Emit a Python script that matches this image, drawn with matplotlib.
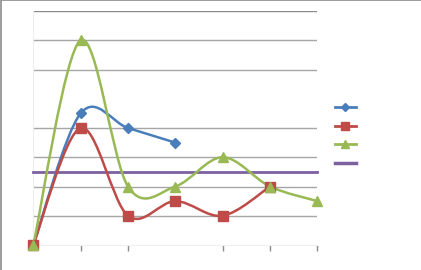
import matplotlib
matplotlib.use("Agg")
import matplotlib.pyplot as plt
from matplotlib.path import Path
from matplotlib.patches import PathPatch, Rectangle
from matplotlib.lines import Line2D

# donnees
x_bleu = [0, 1, 2, 3]
y_bleu = [0, 4.5, 4, 3.5]
x_rouge = [0, 1, 2, 3, 4, 5]
y_rouge = [0, 4, 1, 1.5, 1, 2]
x_vert = [0, 1, 2, 3, 4, 5, 6]
y_vert = [0, 7, 2, 2, 3, 2, 1.5]
x_violet = [0, 6]
y_violet = [2.5, 2.5]
grilles = [1, 2, 3, 4, 6, 7, 8]
graduations = [1, 2, 4, 5, 6]

bleu = '#4a7ebb'
rouge = '#be4b48'
vert = '#98b954'
violet = '#7d60a0'


def courbe_lisse(xs, ys):
    # spline de Bezier facon Excel (lignes lissees)
    pts = list(zip(xs, ys))
    n = len(pts)
    verts = [pts[0]]
    codes = [Path.MOVETO]
    for i in range(n - 1):
        p0 = pts[max(i - 1, 0)]
        p1 = pts[i]
        p2 = pts[i + 1]
        p3 = pts[min(i + 2, n - 1)]
        c1 = (p1[0] + (p2[0] - p0[0]) / 6, p1[1] + (p2[1] - p0[1]) / 6)
        c2 = (p2[0] - (p3[0] - p1[0]) / 6, p2[1] - (p3[1] - p1[1]) / 6)
        verts += [c1, c2, p2]
        codes += [Path.CURVE4] * 3
    return Path(verts, codes)


fig = plt.figure(figsize=(4.21, 2.70), dpi=100)
ax = fig.add_axes([33.3 / 421, 25 / 270, 284 / 421, 234 / 270])
ax.set_xlim(0, 6)
ax.set_ylim(0, 8)

for g in grilles:
    c = '#8c8c8c' if g == 8 else '#a6a6a6'
    ax.axhline(g, color=c, lw=1, zorder=1)

for s in ['top', 'right']:
    ax.spines[s].set_visible(False)
ax.spines['left'].set_color('#eeeeee')
ax.spines['bottom'].set_color('#eeeeee')
ax.set_xticks(graduations)
ax.set_xticklabels([])
ax.set_yticks([])
ax.tick_params(axis='x', direction='out', length=4, color='#8c8c8c', width=1)

# serie horizontale
ax.plot(x_violet, y_violet, color=violet, lw=2, zorder=3, clip_on=False)

series = [
    (x_bleu, y_bleu, bleu, 'D', 5),
    (x_rouge, y_rouge, rouge, 's', 7),
    (x_vert, y_vert, vert, '^', 7.5),
]
for xs, ys, col, m, ms in series:
    ax.add_patch(PathPatch(courbe_lisse(xs, ys), facecolor='none', edgecolor=col,
                           lw=1.8, zorder=4, clip_on=False))
    ax.plot(xs, ys, linestyle='none', marker=m, ms=ms, color=col, zorder=5,
            clip_on=False)

# legende sans texte
poignees = [
    Line2D([], [], color=bleu, lw=2, marker='D', ms=4),
    Line2D([], [], color=rouge, lw=2, marker='s', ms=6),
    Line2D([], [], color=vert, lw=2, marker='^', ms=6),
    Line2D([], [], color=violet, lw=2.5),
]
fig.legend(poignees, ['', '', '', ''], loc='center left',
           bbox_to_anchor=(322 / 421, 1 - 136 / 270), frameon=False,
           handlelength=1.55, fontsize=10, labelspacing=0.33, handletextpad=0)

# cadre du graphique (haut et gauche)
fig.add_artist(Rectangle((0.5 / 421, -0.1), 1.2, 1.1 - 0.5 / 270, transform=fig.transFigure,
                         fill=False, edgecolor='#8c8c8c', lw=1.2))

fig.savefig('out.png', dpi=100)
